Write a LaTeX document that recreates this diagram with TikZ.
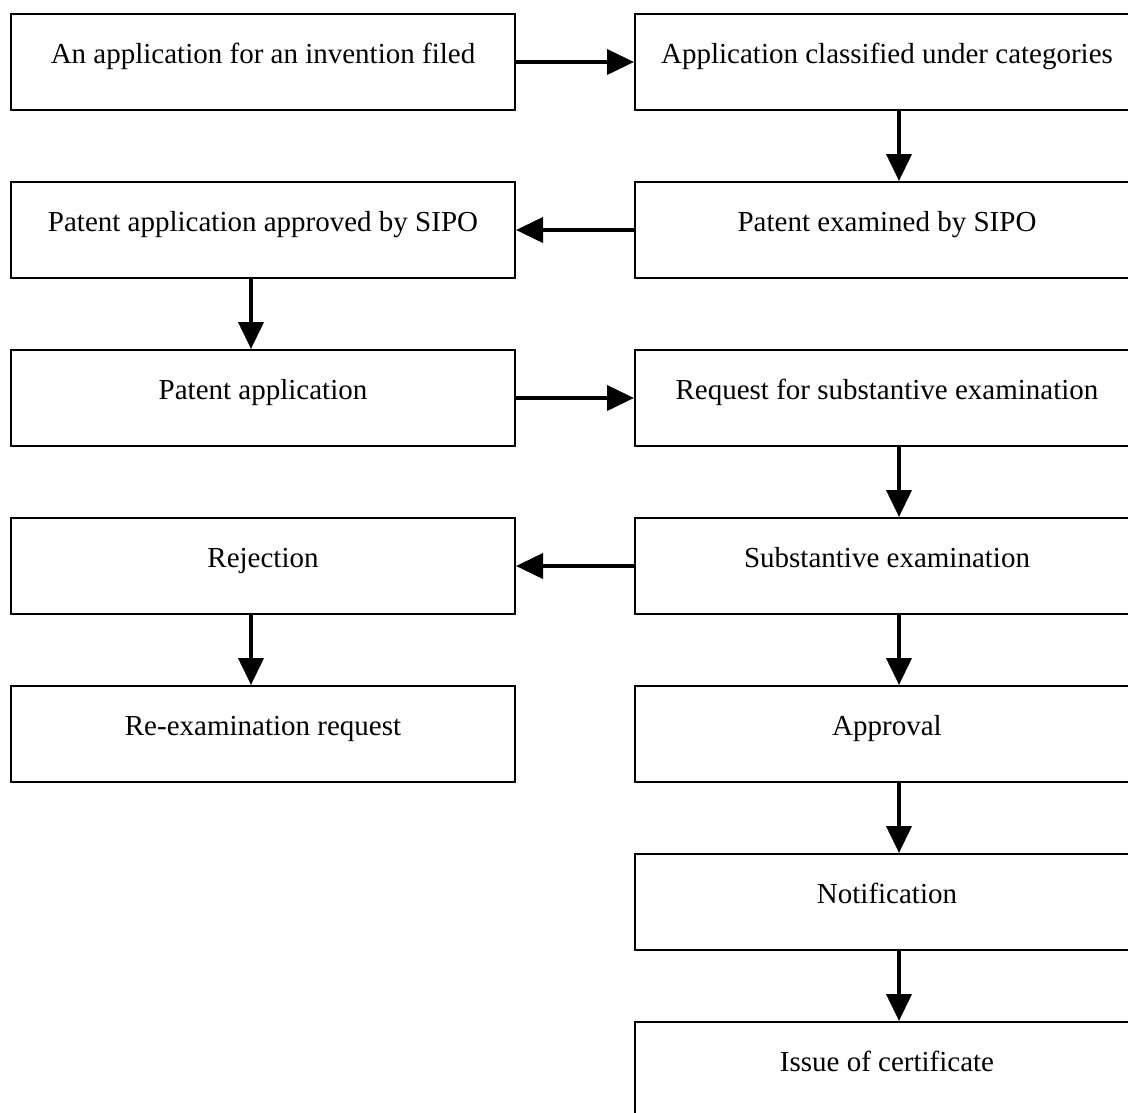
\documentclass[tikz,border=0pt]{standalone}
\usepackage{fontspec}
\setmainfont{Liberation Serif}
\usetikzlibrary{arrows.meta}
\begin{document}
\begin{tikzpicture}[x=1pt,y=-1pt,
  stepbox/.style={draw=black,line width=2pt,minimum width=504pt,minimum height=96pt,
    inner sep=0pt,text height=15pt,text depth=13pt,
    font=\fontsize{29}{33}\selectfont},
  flow/.style={line width=4pt,-{Triangle[length=27pt,width=25pt]}}]
\useasboundingbox (0,0) rectangle (1128,1112);
\clip (0,0) rectangle (1128,1112);
% left column (centre x = 263), right column (centre x = 887)
\node[stepbox] (l1) at (263,62)  {An application for an invention filed};
\node[stepbox] (r1) at (887,62)  {Application classified under categories};
\node[stepbox] (l2) at (263,230) {Patent application approved by SIPO};
\node[stepbox] (r2) at (887,230) {Patent examined by SIPO};
\node[stepbox] (l3) at (263,398) {Patent application};
\node[stepbox] (r3) at (887,398) {Request for substantive examination};
\node[stepbox] (l4) at (263,566) {Rejection};
\node[stepbox] (r4) at (887,566) {Substantive examination};
\node[stepbox] (l5) at (263,734) {Re-examination request};
\node[stepbox] (r5) at (887,734) {Approval};
\node[stepbox] (r6) at (887,902) {Notification};
\node[stepbox] (r7) at (887,1070) {Issue of certificate};
% horizontal links
\draw[flow] (l1.east) -- (r1.west);
\draw[flow] (r2.west) -- (l2.east);
\draw[flow] (l3.east) -- (r3.west);
\draw[flow] (r4.west) -- (l4.east);
% vertical links
\draw[flow] ([xshift=12pt]r1.south) -- ([xshift=12pt]r2.north);
\draw[flow] ([xshift=-12pt]l2.south) -- ([xshift=-12pt]l3.north);
\draw[flow] ([xshift=12pt]r3.south) -- ([xshift=12pt]r4.north);
\draw[flow] ([xshift=-12pt]l4.south) -- ([xshift=-12pt]l5.north);
\draw[flow] ([xshift=12pt]r4.south) -- ([xshift=12pt]r5.north);
\draw[flow] ([xshift=12pt]r5.south) -- ([xshift=12pt]r6.north);
\draw[flow] ([xshift=12pt]r6.south) -- ([xshift=12pt]r7.north);
\end{tikzpicture}
\end{document}
